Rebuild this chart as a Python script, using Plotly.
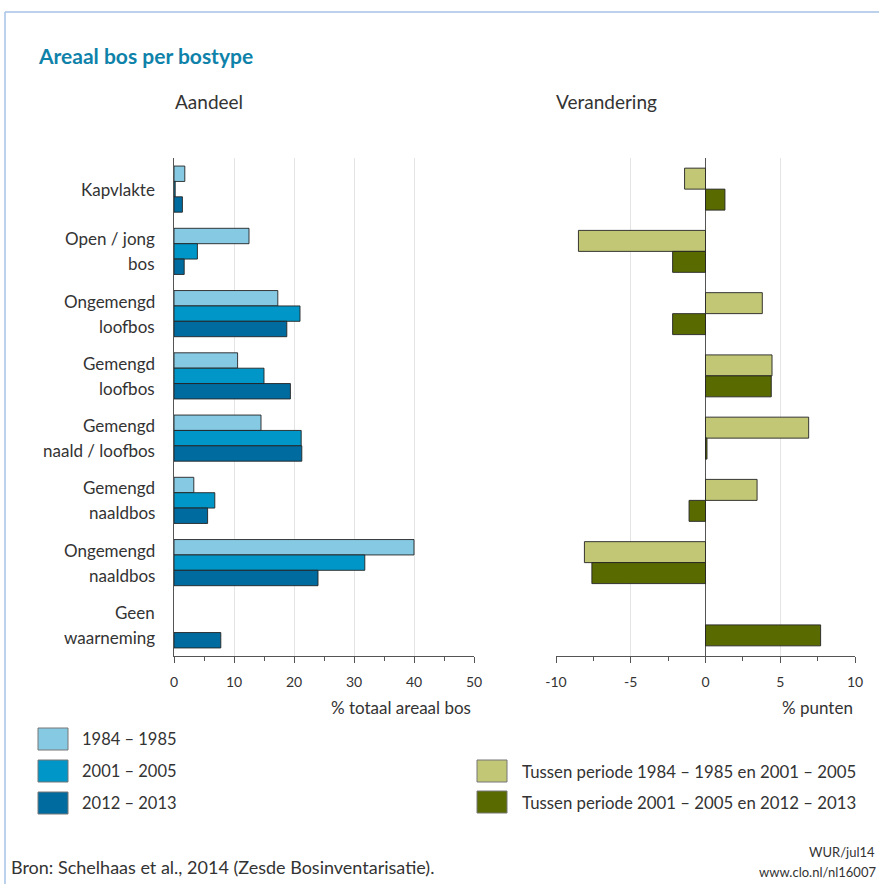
import plotly.graph_objects as go

# ---------------- data ----------------
categories = ["Kapvlakte", "Open / jong bos", "Ongemengd loofbos", "Gemengd loofbos",
              "Gemengd naald / loofbos", "Gemengd naaldbos", "Ongemengd naaldbos", "Geen waarneming"]
category_lines = [["Kapvlakte"], ["Open / jong", "bos"], ["Ongemengd", "loofbos"],
                  ["Gemengd", "loofbos"], ["Gemengd", "naald / loofbos"], ["Gemengd", "naaldbos"],
                  ["Ongemengd", "naaldbos"], ["Geen", "waarneming"]]

share_1984_1985 = [1.8, 12.5, 17.3, 10.6, 14.5, 3.3, 40.0, None]
share_2001_2005 = [0.2, 3.9, 21.0, 15.0, 21.2, 6.8, 31.8, None]
share_2012_2013 = [1.4, 1.7, 18.8, 19.4, 21.3, 5.6, 24.0, 7.8]

change_p1 = [-1.4, -8.5, 3.8, 4.45, 6.9, 3.45, -8.1, None]
change_p2 = [1.3, -2.2, -2.2, 4.4, 0.1, -1.1, -7.6, 7.7]

share_names = ["1984 – 1985", "2001 – 2005", "2012 – 2013"]
change_names = ["Tussen periode 1984 – 1985 en 2001 – 2005",
                "Tussen periode 2001 – 2005 en 2012 – 2013"]

left_ticks = [0, 10, 20, 30, 40, 50]
left_tick_text = ["0", "10", "20", "30", "40", "50"]
right_ticks = [-10, -5, 0, 5, 10]
right_tick_text = ["-10", "-5", "0", "5", "10"]

# ---------------- style ----------------
W, H = 879, 884
ML, MR, MT, MB = 174, 24, 158, 228
PW = W - ML - MR
PH = H - MT - MB


def px(x):
    return (x - ML) / PW


def py(y):
    return (H - MB - y) / PH


FONT = "Lato, 'Open Sans', sans-serif"
TXT = "#333333"
blue_cols = ["#86c9e3", "#0096c7", "#006b9f"]
green_cols = ["#c2c776", "#596b00"]
outline = "rgba(35,35,35,0.9)"

fig = go.Figure()

left_width = 0.247
left_offsets = [-1.5 * left_width, -0.5 * left_width, 0.5 * left_width]
for vals, name, col, off in zip([share_1984_1985, share_2001_2005, share_2012_2013],
                                share_names, blue_cols, left_offsets):
    fig.add_trace(go.Bar(y=categories, x=vals, orientation="h", name=name,
                         marker=dict(color=col, line=dict(color=outline, width=1)),
                         width=left_width, offset=off, xaxis="x", yaxis="y",
                         showlegend=False))

right_width = 0.337
right_offsets = [-right_width, 0]
for vals, name, col, off in zip([change_p1, change_p2], change_names, green_cols, right_offsets):
    fig.add_trace(go.Bar(y=categories, x=vals, orientation="h", name=name,
                         marker=dict(color=col, line=dict(color=outline, width=1)),
                         width=right_width, offset=off, xaxis="x2", yaxis="y2",
                         showlegend=False))

axis_common = dict(showline=True, linecolor="#555555", linewidth=1, ticks="outside",
                   ticklen=6, tickcolor="#555555", showgrid=True, gridcolor="#e4e4e4",
                   gridwidth=1, tickfont=dict(family=FONT, size=14, color=TXT),
                   ticklabelstandoff=7, fixedrange=True)

fig.update_layout(
    width=W, height=H,
    margin=dict(l=ML, r=MR, t=MT, b=MB, pad=0),
    paper_bgcolor="white", plot_bgcolor="white",
    barmode="overlay",
    font=dict(family=FONT, color=TXT),
    xaxis=dict(domain=[0, px(474)], range=[0, 50], tickvals=left_ticks, ticktext=left_tick_text,
               zeroline=False,
               minor=dict(ticks="outside", dtick=5, tick0=0, ticklen=4, tickcolor="#555555",
                          showgrid=False),
               anchor="y", **axis_common),
    xaxis2=dict(domain=[px(556), 1], range=[-10, 10], tickvals=right_ticks,
                ticktext=right_tick_text, zeroline=True,
                zerolinecolor="#555555", zerolinewidth=1,
                minor=dict(ticks="outside", dtick=2.5, tick0=0, ticklen=4, tickcolor="#555555",
                           showgrid=False),
                anchor="y2", **axis_common),
    yaxis=dict(domain=[0, 1], type="category", categoryorder="array", categoryarray=categories,
               range=[7.5, -0.5], showticklabels=False, ticks="", showline=True,
               linecolor="#555555", linewidth=1, showgrid=False, anchor="x", fixedrange=True),
    yaxis2=dict(domain=[0, 1], type="category", categoryorder="array", categoryarray=categories,
                range=[7.5, -0.5], showticklabels=False, ticks="", showline=False,
                showgrid=False, anchor="x2", fixedrange=True),
)

annotations = []
shapes = []

# category labels
line_gap = 25
for cat, lines in zip(categories, category_lines):
    n = len(lines)
    for i, ln in enumerate(lines):
        shift = (n - 1) / 2 * line_gap - i * line_gap
        annotations.append(dict(text=ln, x=0, xref="paper", xanchor="right", xshift=-17,
                                y=cat, yref="y", yanchor="middle", yshift=shift,
                                showarrow=False, font=dict(family=FONT, size=17, color=TXT)))

# title & panel headings
annotations.append(dict(text="<b>Areaal bos per bostype</b>", x=px(36), y=py(55), xref="paper",
                        yref="paper", xanchor="left", yanchor="middle", showarrow=False,
                        font=dict(family=FONT, size=21, color="#0f82aa")))
annotations.append(dict(text="Aandeel", x=px(173), y=py(102), xref="paper", yref="paper",
                        xanchor="left", yanchor="middle", showarrow=False,
                        font=dict(family=FONT, size=19, color=TXT)))
annotations.append(dict(text="Verandering", x=px(554), y=py(102), xref="paper", yref="paper",
                        xanchor="left", yanchor="middle", showarrow=False,
                        font=dict(family=FONT, size=19, color=TXT)))

# axis titles
annotations.append(dict(text="% totaal areaal bos", x=px(473), y=py(707), xref="paper",
                        yref="paper", xanchor="right", yanchor="middle", showarrow=False,
                        font=dict(family=FONT, size=17, color=TXT)))
annotations.append(dict(text="% punten", x=px(855), y=py(707), xref="paper",
                        yref="paper", xanchor="right", yanchor="middle", showarrow=False,
                        font=dict(family=FONT, size=17, color=TXT)))

# legends (manual swatches)
left_rows = [739, 771, 803]
for name, col, yc in zip(share_names, blue_cols, left_rows):
    shapes.append(dict(type="rect", xref="paper", yref="paper", x0=px(38), x1=px(68),
                       y0=py(yc + 11), y1=py(yc - 11), fillcolor=col,
                       line=dict(color="#777777", width=1)))
    annotations.append(dict(text=name, x=px(80), y=py(yc), xref="paper", yref="paper",
                            xanchor="left", yanchor="middle", showarrow=False,
                            font=dict(family=FONT, size=16.5, color=TXT)))
right_rows = [771, 802]
for name, col, yc in zip(change_names, green_cols, right_rows):
    shapes.append(dict(type="rect", xref="paper", yref="paper", x0=px(477), x1=px(507),
                       y0=py(yc + 11), y1=py(yc - 11), fillcolor=col,
                       line=dict(color="#777777", width=1)))
    annotations.append(dict(text=name, x=px(520), y=py(yc), xref="paper", yref="paper",
                            xanchor="left", yanchor="middle", showarrow=False,
                            font=dict(family=FONT, size=16.8, color=TXT)))

# footer
annotations.append(dict(text="Bron: Schelhaas et al., 2014 (Zesde Bosinventarisatie).",
                        x=px(9), y=py(867), xref="paper", yref="paper", xanchor="left",
                        yanchor="middle", showarrow=False,
                        font=dict(family=FONT, size=18, color=TXT)))
annotations.append(dict(text="WUR/jul14", x=px(877), y=py(852), xref="paper", yref="paper",
                        xanchor="right", yanchor="middle", showarrow=False,
                        font=dict(family=FONT, size=13, color=TXT)))
annotations.append(dict(text="www.clo.nl/nl16007", x=px(878), y=py(872), xref="paper",
                        yref="paper", xanchor="right", yanchor="middle", showarrow=False,
                        font=dict(family=FONT, size=13, color=TXT)))

# frame
shapes.append(dict(type="line", xref="paper", yref="paper", x0=px(5), x1=px(890),
                   y0=py(12), y1=py(12), line=dict(color="#a6c3e6", width=1.5)))
shapes.append(dict(type="line", xref="paper", yref="paper", x0=px(5), x1=px(5),
                   y0=py(12), y1=py(890), line=dict(color="#a6c3e6", width=1.5)))

fig.update_layout(annotations=annotations, shapes=shapes)

fig.write_html("out.html", config={"displayModeBar": False},
               post_script="document.body.style.margin='0px';")
